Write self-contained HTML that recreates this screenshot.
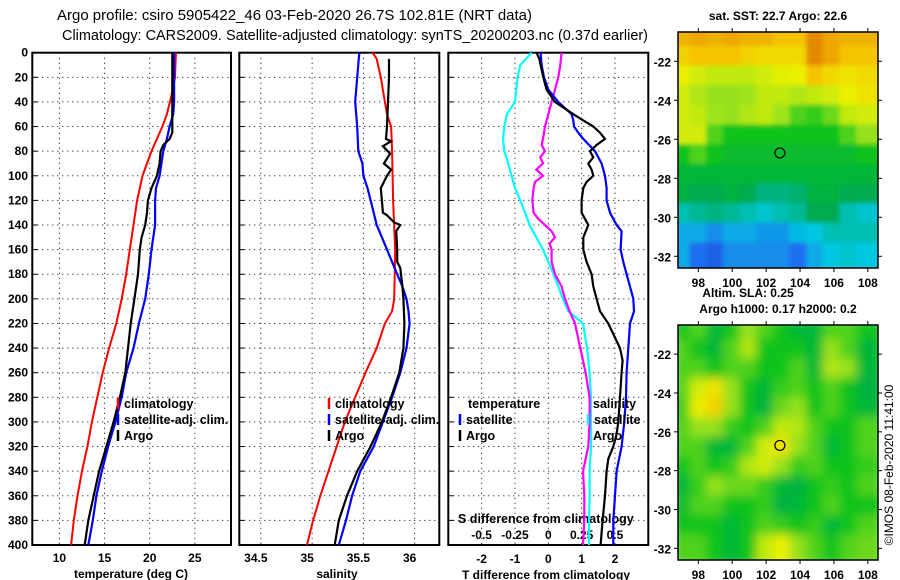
<!DOCTYPE html>
<html><head><meta charset="utf-8"><style>
body{margin:0;background:#fff;}
svg{display:block;font-family:"Liberation Sans",sans-serif;}
.tk{font-size:12px;font-weight:bold;fill:#000;}
.lg{font-size:12.5px;font-weight:bold;fill:#000;}
</style></head><body>
<svg id="fig" width="900" height="580" viewBox="0 0 900 580">
<text x="57" y="20" font-size="14.5" textLength="475" lengthAdjust="spacingAndGlyphs">Argo profile: csiro 5905422_46 03-Feb-2020 26.7S 102.81E (NRT data)</text>
<text x="62" y="40" font-size="14.5" textLength="586" lengthAdjust="spacingAndGlyphs">Climatology: CARS2009. Satellite-adjusted climatology: synTS_20200203.nc (0.37d earlier)</text>
<g id="plots"></g>
</svg>
<script>
// ---- depth axis ----
const depthTicks=[0,20,40,60,80,100,120,140,160,180,200,220,240,260,280,300,320,340,360,380,400];
// ---- temperature panel ----
const tempTicks=[10,15,20,25];
const tClimDepth=[0,20,35,50,60,70,80,90,100,120,140,160,180,200,220,240,260,280,300,320,340,360,380,400];
const tClimVal=[22.9,22.8,22.4,21.9,21.4,20.8,20.2,19.7,19.2,18.6,18.2,17.8,17.4,16.9,16.3,15.5,14.8,14.2,13.6,13.1,12.5,12.0,11.6,11.3];
const tSatDepth=[0,20,40,50,60,70,80,100,110,120,140,160,180,200,220,240,260,280,300,320,340,360,380,400];
const tSatVal=[22.7,22.7,22.7,22.6,22.2,21.9,21.5,21.1,20.7,20.6,20.6,20.2,19.9,19.5,18.8,18.2,17.4,16.9,16.2,15.4,14.7,14.1,13.7,13.2];
const tArgoDepth=[0,65,70,75,80,90,100,110,120,130,140,150,160,180,200,220,240,260,280,300,320,340,360,380,400];
const tArgoVal=[22.5,22.5,22.2,21.5,21.2,21.1,20.8,20.2,19.8,19.7,19.5,19.1,18.9,18.7,18.3,17.9,17.6,17.3,16.7,16.0,15.2,14.4,13.8,13.2,12.8];
// ---- salinity panel ----
const salTicks=[34.5,35,35.5,36];
const sClimDepth=[0,5,20,40,50,60,80,120,160,200,210,220,240,260,280,300,320,340,360,380,400];
const sClimVal=[35.59,35.63,35.67,35.71,35.73,35.77,35.78,35.79,35.81,35.80,35.78,35.71,35.63,35.52,35.42,35.32,35.24,35.16,35.08,35.01,34.95];
const sSatDepth=[0,20,40,60,80,90,100,110,120,130,140,150,160,170,180,190,200,210,220,240,260,280,300,320,340,360,380,400];
const sSatVal=[35.46,35.44,35.42,35.44,35.45,35.49,35.50,35.54,35.57,35.60,35.63,35.68,35.73,35.78,35.83,35.88,35.92,35.94,35.95,35.92,35.86,35.78,35.69,35.60,35.47,35.39,35.33,35.26];
const sArgoDepth=[5,20,40,60,70,72,76,82,90,95,100,110,120,130,132,138,140,145,160,170,175,190,200,220,240,260,280,300,320,340,360,380,400];
const sArgoVal=[35.75,35.75,35.74,35.73,35.72,35.77,35.69,35.76,35.70,35.77,35.73,35.67,35.68,35.69,35.73,35.80,35.86,35.82,35.83,35.83,35.86,35.88,35.89,35.90,35.89,35.85,35.77,35.68,35.57,35.44,35.34,35.26,35.22];
// ---- difference panel ----
const tDiffTicks=[-2,-1,0,1,2];
const sDiffTicks=[-0.5,-0.25,0,0.25,0.5];
const sDiffTickLabels=["-0.5","-0.25","0","0.25","0.5"];
const dTSatDepth=[0,10,20,30,40,50,55,60,65,70,80,90,100,110,120,130,140,145,160,170,180,190,200,210,220,240,260,280,300,320,340,360,380,400];
const dTSatVal=[-0.23,-0.2,-0.13,0,0.3,0.7,0.75,0.77,0.9,1.05,1.4,1.6,1.7,1.75,1.75,1.85,2.05,2.2,2.17,2.25,2.35,2.45,2.55,2.57,2.45,2.4,2.35,2.33,2.28,2.2,2.05,2.0,1.95,1.95];
const dTArgoDepth=[0,5,20,30,40,50,55,60,65,70,75,80,85,90,95,100,105,110,120,130,140,150,160,170,180,190,200,210,220,240,250,260,280,300,310,320,330,340,360,380,400];
const dTArgoVal=[-0.35,-0.27,-0.15,-0.05,0.2,0.75,1.05,1.35,1.55,1.7,1.45,1.25,1.35,1.2,1.3,1.35,1.15,1.05,1.0,1.0,1.2,1.05,1.05,1.15,1.3,1.35,1.45,1.55,1.8,2.15,2.23,2.2,2.15,2.1,2.05,1.95,1.8,1.75,1.7,1.63,1.57];
const dSSatDepth=[0,10,20,30,40,50,60,70,80,90,100,110,120,130,140,150,160,170,180,190,200,210,220,240,260,280,300,320,340,360,380,400];
const dSSatVal=[-0.125,-0.21,-0.23,-0.24,-0.25,-0.31,-0.33,-0.34,-0.33,-0.3,-0.275,-0.25,-0.21,-0.175,-0.14,-0.09,-0.04,0,0.04,0.075,0.11,0.15,0.26,0.29,0.31,0.32,0.32,0.32,0.31,0.31,0.305,0.305];
const dSArgoDepth=[0,10,20,30,40,50,60,70,75,80,85,90,95,100,105,110,120,130,135,140,145,150,155,160,170,180,190,200,210,220,240,260,280,300,320,340,360,380,400];
const dSArgoVal=[0.1,0.09,0.075,0.05,0.025,0,-0.025,-0.04,-0.05,-0.025,-0.06,-0.04,-0.09,-0.04,-0.1,-0.11,-0.12,-0.11,-0.075,-0.025,0.025,0.05,0.01,0.025,0.025,0.05,0.1,0.125,0.16,0.2,0.24,0.28,0.31,0.31,0.3,0.26,0.27,0.27,0.26];
// ---- maps (rows lat -21..-32, cols lon 97..108), normalised colour value 0..1 ----
const sstGrid=[
[.88,.9,.88,.9,.88,.88,.85,.85,.95,.9,.88,.88],
[.82,.85,.85,.85,.82,.8,.8,.8,.95,.9,.85,.85],
[.75,.72,.7,.7,.7,.72,.74,.75,.85,.8,.78,.8],
[.72,.68,.65,.65,.66,.7,.7,.68,.7,.72,.75,.78],
[.72,.7,.66,.65,.68,.7,.66,.6,.58,.62,.7,.72],
[.72,.72,.6,.55,.55,.55,.55,.55,.55,.55,.6,.65],
[.55,.6,.55,.52,.52,.52,.52,.52,.52,.52,.52,.55],
[.5,.5,.5,.5,.5,.5,.5,.5,.5,.5,.5,.5],
[.48,.45,.45,.48,.45,.4,.4,.42,.48,.48,.45,.45],
[.35,.38,.4,.38,.35,.32,.35,.38,.45,.45,.35,.32],
[.25,.25,.2,.25,.25,.22,.22,.28,.3,.35,.35,.35],
[.25,.15,.12,.2,.2,.2,.2,.15,.25,.3,.32,.3]];
const slaGrid=[
[.55,.6,.5,.55,.65,.6,.55,.5,.5,.6,.6,.55],
[.6,.55,.5,.6,.68,.55,.55,.55,.5,.65,.6,.5],
[.6,.6,.55,.6,.6,.55,.55,.6,.5,.68,.65,.5],
[.6,.72,.78,.65,.55,.5,.58,.6,.55,.6,.55,.48],
[.58,.75,.82,.65,.55,.48,.62,.65,.55,.6,.55,.5],
[.6,.65,.65,.58,.55,.6,.7,.68,.6,.55,.55,.6],
[.6,.6,.5,.5,.6,.72,.78,.65,.6,.5,.55,.6],
[.55,.6,.55,.58,.68,.72,.65,.58,.6,.55,.55,.58],
[.5,.58,.65,.62,.62,.58,.5,.48,.55,.58,.55,.6],
[.52,.6,.6,.55,.55,.58,.48,.5,.55,.6,.55,.55],
[.55,.55,.55,.5,.55,.6,.58,.55,.58,.5,.55,.6],
[.6,.6,.55,.5,.55,.7,.75,.65,.6,.55,.6,.62]];
const lonTicks=[98,100,102,104,106,108];
const latTicks=[-22,-24,-26,-28,-30,-32];
const argoLon=102.81, argoLat=-26.7;

const NS="http://www.w3.org/2000/svg";
const root=document.getElementById('plots');
function mk(tag,attrs,parent){const e=document.createElementNS(NS,tag);for(const k in attrs)e.setAttribute(k,attrs[k]);(parent||root).appendChild(e);return e;}
function txt(x,y,s,cls,anchor,parent){const t=mk('text',{x:x,y:y,class:cls,'text-anchor':anchor||'start'},parent);t.textContent=s;return t;}
const Y0=52.7,Y1=545;
function yScale(d){return Y0+(d-0)*(Y1-Y0)/400;}
function linScale(d0,d1,r0,r1){return v=>r0+(v-d0)*(r1-r0)/(d1-d0);}

function panel(name,x0,x1,xmin,xmax,ticks){
  const g=mk('g',{});
  
  
  const xs=linScale(xmin,xmax,x0,x1);
  depthTicks.forEach(d=>{
    if(d>0&&d<400){const l=mk('line',{x1:x0,x2:x1,y1:yScale(d),y2:yScale(d),stroke:'#000','stroke-width':1,'stroke-dasharray':'1 4'},g);
    }
    mk('line',{x1:x0,x2:x0+5,y1:yScale(d),y2:yScale(d),stroke:'#000','stroke-width':1},g);
  });
  ticks.forEach(v=>{
    const l=mk('line',{x1:xs(v),x2:xs(v),y1:Y0,y2:Y1,stroke:'#000','stroke-width':1,'stroke-dasharray':'1 4'},g);
    
  });
  const r=mk('rect',{x:x0,y:Y0,width:x1-x0,height:Y1-Y0,fill:'none',stroke:'#000','stroke-width':2},g);
  
  return {g,xs};
}
function series(p,depths,vals,color,name,w,xs){
  const f=xs||p.xs;
  const pts=depths.map((d,i)=>f(vals[i]).toFixed(1)+','+yScale(d).toFixed(1)).join(' ');
  const pl=mk('polyline',{points:pts,fill:'none',stroke:color,'stroke-width':w||2.2,'stroke-linejoin':'miter'},p.g);
  
  
}
function legendEntry(g,x,y,color,label,name){
  const e=mk('g',{},g);
  
  
  if(color) mk('line',{x1:x,x2:x,y1:y-10,y2:y+1,stroke:color,'stroke-width':2.5},e);
  txt(x+6,y,label,'lg','start',e);
}

depthTicks.forEach(d=>{const t=txt(28,yScale(d)+4,String(d),'tk','end');
});

const p1=panel('temperature-panel',32.3,231,7,29,tempTicks);
tempTicks.forEach(v=>{const t=txt(p1.xs(v),562,String(v),'tk','middle',p1.g);});
const xt1=txt(131,578,'temperature (deg C)','tk','middle',p1.g);
series(p1,tClimDepth,tClimVal,'#ff0000','temp-climatology-line',2);
series(p1,tSatDepth,tSatVal,'#0000ff','temp-satellite-line',2.2);
series(p1,tArgoDepth,tArgoVal,'#000000','temp-argo-line',2.2);
legendEntry(p1.g,118,408,'#ff0000','climatology','legend-climatology');
legendEntry(p1.g,118,424,'#0000ff','satellite-adj. clim.','legend-satellite');
legendEntry(p1.g,118,440,'#000000','Argo','legend-argo');

const p2=panel('salinity-panel',239.3,439.3,34.29,36.24,salTicks);
salTicks.forEach(v=>{const t=txt(p2.xs(v)-5,562,String(v),'tk','middle',p2.g);});
const xt2=txt(337,578,'salinity','tk','middle',p2.g);
series(p2,sClimDepth,sClimVal,'#ff0000','sal-climatology-line',2);
series(p2,sSatDepth,sSatVal,'#0000ff','sal-satellite-line',2.2);
series(p2,sArgoDepth,sArgoVal,'#000000','sal-argo-line',2.2);
legendEntry(p2.g,329,408,'#ff0000','climatology','legend-climatology');
legendEntry(p2.g,329,424,'#0000ff','satellite-adj. clim.','legend-satellite');
legendEntry(p2.g,329,440,'#000000','Argo','legend-argo');

const p3=panel('difference-panel',448.3,648.3,-3,3,tDiffTicks);
const sxs=linScale(-0.75,0.75,448.3,648.3);
tDiffTicks.forEach(v=>{const t=txt(p3.xs(v),563,String(v),'tk','middle',p3.g);});
sDiffTicks.forEach((v,i)=>{const t=txt(sxs(v),539,sDiffTickLabels[i],'tk','middle',p3.g);});
const xt3=txt(546,579,'T difference from climatology','tk','middle',p3.g);
const st3=txt(458,523,'S difference from climatology','lg','start',p3.g);
series(p3,dSSatDepth,dSSatVal,'#00ffff','sdiff-satellite-line',2.2,sxs);
series(p3,dSArgoDepth,dSArgoVal,'#ff00ff','sdiff-argo-line',2.2,sxs);
series(p3,dTSatDepth,dTSatVal,'#0000ff','tdiff-satellite-line',2.2);
series(p3,dTArgoDepth,dTArgoVal,'#000000','tdiff-argo-line',2.2);
legendEntry(p3.g,462,408,null,'temperature','legend-temperature-header');
legendEntry(p3.g,460,424,'#0000ff','satellite','legend-tdiff-satellite');
legendEntry(p3.g,460,440,'#000000','Argo','legend-tdiff-argo');
legendEntry(p3.g,587,408,null,'salinity','legend-salinity-header');
legendEntry(p3.g,588,424,'#00ffff','satellite','legend-sdiff-satellite');
legendEntry(p3.g,587,440,null,'Argo','legend-sdiff-argo');

const stops=[[0,[16,40,200]],[0.15,[30,110,240]],[0.3,[0,200,225]],[0.45,[0,170,80]],[0.55,[10,195,30]],[0.65,[150,225,30]],[0.75,[235,240,0]],[0.85,[245,195,0]],[1,[220,110,0]]];
function cmap(v){for(let i=1;i<stops.length;i++){if(v<=stops[i][0]){const a=stops[i-1],b=stops[i];const t=(v-a[0])/(b[0]-a[0]);return 'rgb('+a[1].map((c,k)=>Math.round(c+(b[1][k]-c)*t)).join(',')+')';}}return 'rgb(220,110,0)';}
function drawMap(name,grid,y0,y1,blur,id){
  const x0=678,x1=878;
  const lx=linScale(96.8,108.6,x0,x1), ly=linScale(-20.5,-32.6,y0,y1);
  const g=mk('g',{});
  
  
  const defs=mk('defs',{},g);
  const cp=mk('clipPath',{id:'c'+id},defs);mk('rect',{x:x0,y:y0,width:x1-x0,height:y1-y0},cp);
  const fl=mk('filter',{id:'f'+id,x:'-10%',y:'-10%',width:'120%',height:'120%'},defs);mk('feGaussianBlur',{stdDeviation:blur},fl);
  const cg=mk('g',{'clip-path':'url(#c'+id+')'},g);
  const ig=mk('g',{filter:'url(#f'+id+')'},cg);
  const rows=grid.length, cols=grid[0].length;
  for(let r=0;r<rows;r++)for(let c=0;c<cols;c++){
    const lonA=96.8+c*(108.6-96.8)/cols-0.3, lonB=96.8+(c+1)*(108.6-96.8)/cols+0.3;
    const latA=-20.5-r*(12.1/rows)+0.3, latB=-20.5-(r+1)*(12.1/rows)-0.3;
    const x=lx(lonA), y=ly(latA);
    const cell=mk('rect',{x:x,y:y,width:lx(lonB)-x,height:ly(latB)-y,fill:cmap(grid[r][c])},ig);
    
    
  }
  const fr=mk('rect',{x:x0,y:y0,width:x1-x0,height:y1-y0,fill:'none',stroke:'#000','stroke-width':1.5},g);
  
  lonTicks.forEach(v=>{mk('line',{x1:lx(v),x2:lx(v),y1:y1,y2:y1+4,stroke:'#000'},g);mk('line',{x1:lx(v),x2:lx(v),y1:y0,y2:y0-4,stroke:'#000'},g);
    const t=txt(lx(v),y1+19,String(v),'tk','middle',g);});
  latTicks.forEach(v=>{mk('line',{x1:x0-4,x2:x0,y1:ly(v),y2:ly(v),stroke:'#000'},g);mk('line',{x1:x1,x2:x1+4,y1:ly(v),y2:ly(v),stroke:'#000'},g);
    const t=txt(x0-7,ly(v)+5,String(v),'tk','end',g);});
  const m=mk('circle',{cx:lx(argoLon),cy:ly(argoLat),r:5,fill:'none',stroke:'#000','stroke-width':1.2},g);
  
}
drawMap('sst-map',sstGrid,32,268,2,'a');
drawMap('sla-map',slaGrid,325,560,5,'b');
const mt1=txt(778,20,'sat. SST: 22.7 Argo: 22.6','tk','middle');
const mt2=txt(748,297,'Altim. SLA: 0.25','tk','middle');
const mt3=txt(778,313,'Argo h1000: 0.17 h2000: 0.2','tk','middle');
const cr=txt(0,0,'©IMOS 08-Feb-2020 11:41:00','tk','middle');
cr.setAttribute('transform','translate(893,465) rotate(-90)');cr.setAttribute('style','font-weight:normal;font-size:12px');


</script>
</body></html>
